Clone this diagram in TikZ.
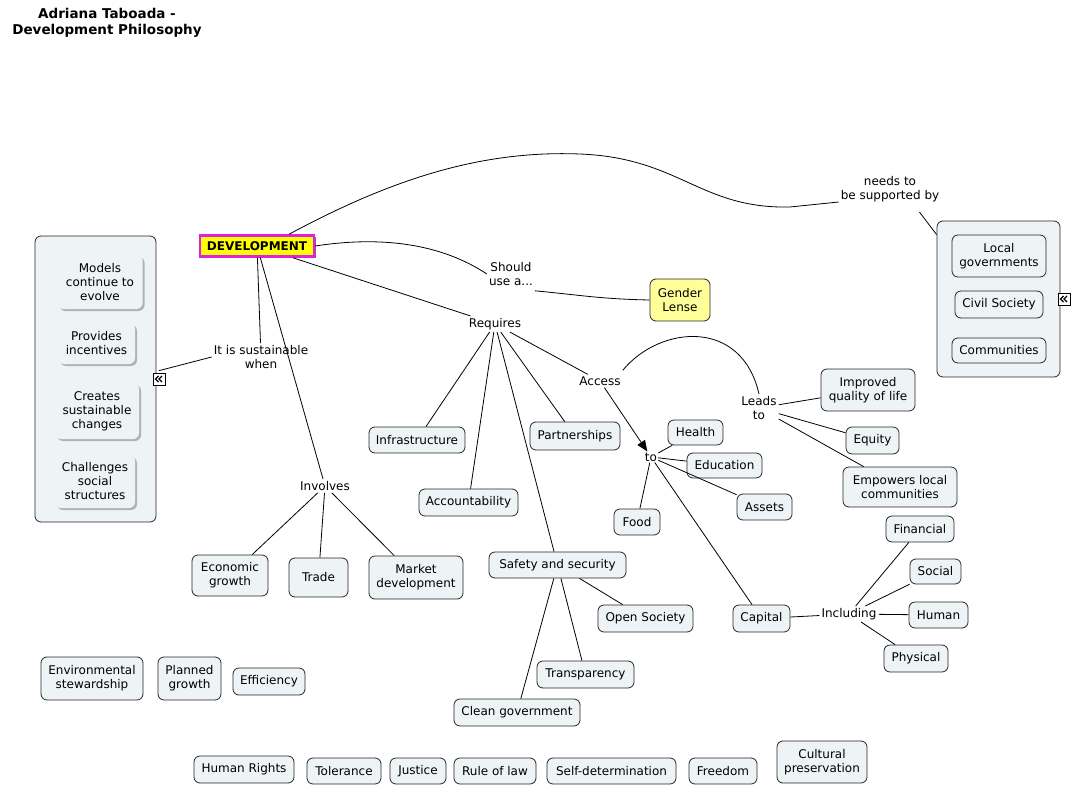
\documentclass[tikz,border=0pt]{standalone}
\usepackage{fontspec}
\setmainfont{DejaVu Sans}
\usetikzlibrary{arrows.meta,shadows}
\definecolor{boxfill}{HTML}{EEF3F6}
\definecolor{gold}{HTML}{FFFF99}
\definecolor{devyellow}{HTML}{FFFF00}
\definecolor{devmag}{HTML}{E020E0}
\definecolor{devshadow}{HTML}{9A4AA8}
\tikzset{
  wh/.style n args={2}{minimum width=#1, minimum height=#2},
  box/.style={draw=black!85, fill=boxfill, rounded corners=6pt, line width=0.8pt, align=center, inner sep=0pt},
  sbox/.style={fill=boxfill, rounded corners=6pt, align=center, inner sep=0pt,
    general shadow={fill=gray!60, shadow xshift=2pt, shadow yshift=-2pt}},
  devbox/.style={draw=devmag, line width=2.5pt, fill=devyellow, inner sep=0pt,
    font=\fontsize{12}{14}\selectfont\bfseries,
    general shadow={fill=devshadow, shadow xshift=1.5pt, shadow yshift=-1.5pt}},
  lbl/.style={align=center, inner sep=2pt},
  icon/.style={draw=black, fill=white, line width=0.7pt, minimum size=12pt, inner sep=0pt,
    path picture={
      \draw[line width=1.1pt] ([xshift=-0.5pt,yshift=-3pt]path picture bounding box.north)
        -- ([xshift=-3.5pt]path picture bounding box.center)
        -- ([xshift=-0.5pt,yshift=3pt]path picture bounding box.south);
      \draw[line width=1.1pt] ([xshift=3pt,yshift=-3pt]path picture bounding box.north)
        -- ([xshift=0pt]path picture bounding box.center)
        -- ([xshift=3pt,yshift=3pt]path picture bounding box.south);
    }},
  link/.style={line width=0.8pt, black}
}
\begin{document}
\begin{tikzpicture}[x=1pt,y=-1pt, font=\fontsize{12}{14}\selectfont]
\useasboundingbox (0,0) rectangle (1073,786);

% title
\node[lbl, font=\fontsize{13.5}{16}\selectfont\bfseries] (title) at (107,23) {Adriana Taboada -\\Development Philosophy};

% central node
\node[devbox, wh={114}{21}] (dev) at (257,246) {DEVELOPMENT};

% left panel
\node[box, wh={121}{286}] (lpanel) at (95.5,379) {};
\node[sbox, wh={85}{54}] (models) at (100,282) {Models\\continue to\\evolve};
\node[sbox, wh={77}{41}] (incent) at (96.5,343.5) {Provides\\incentives};
\node[sbox, wh={84}{56}] (creates) at (97,411) {Creates\\sustainable\\changes};
\node[sbox, wh={80}{53}] (challenges) at (95,481.5) {Challenges\\social\\structures};
\node[icon] (licon) at (159,379) {};

% right panel
\node[box, wh={123}{156}] (rpanel) at (998.5,299) {};
\node[box, wh={94}{42}] (localgov) at (999,256) {Local\\governments};
\node[box, wh={88}{27}] (civil) at (999,304.5) {Civil Society};
\node[box, wh={94}{25}] (comm) at (999,350.5) {Communities};
\node[icon] (ricon) at (1064,299) {};

% labels
\node[lbl] (needs) at (890,189) {needs to\\be supported by};
\node[lbl] (should) at (511,274) {Should\\use a...};
\node[lbl] (requires) at (495,324) {Requires};
\node[lbl] (sust) at (261,357) {It is sustainable\\when};
\node[lbl] (involves) at (325,486) {Involves};
\node[lbl] (access) at (600,381) {Access};
\node[lbl] (leads) at (759,408) {Leads\\to};
\node[lbl, inner sep=1pt] (to) at (651,457) {to};
\node[lbl] (including) at (849,614) {Including};

% gender lense
\node[box, fill=gold, wh={60}{42}] (gender) at (680,300) {Gender\\Lense};

% requires children
\node[box, wh={96}{26}] (infra) at (417,440) {Infrastructure};
\node[box, wh={99}{27}] (account) at (468.5,502.5) {Accountability};
\node[box, wh={90}{28}] (partner) at (575,436) {Partnerships};
\node[box, wh={137}{26}] (safety) at (557.5,565) {Safety and security};
\node[box, wh={95}{27}] (opensoc) at (645.5,618.5) {Open Society};
\node[box, wh={97}{27}] (transp) at (585.5,674.5) {Transparency};
\node[box, wh={126}{27}] (cleangov) at (517,712.5) {Clean government};

% access children
\node[box, wh={55}{25}] (health) at (695.5,432.5) {Health};
\node[box, wh={75}{25}] (educ) at (724.5,465.5) {Education};
\node[box, wh={55}{26}] (assets) at (764.5,507) {Assets};
\node[box, wh={46}{26}] (food) at (637,522) {Food};
\node[box, wh={57}{27}] (capital) at (761.5,618.5) {Capital};

% leads to children
\node[box, wh={94}{42}] (improved) at (868,390) {Improved\\quality of life};
\node[box, wh={53}{27}] (equity) at (872.5,440.5) {Equity};
\node[box, wh={114}{40}] (empowers) at (900,487) {Empowers local\\communities};

% including children
\node[box, wh={68}{26}] (financial) at (920,529) {Financial};
\node[box, wh={51}{25}] (social) at (935.5,571.5) {Social};
\node[box, wh={59}{26}] (human) at (938.5,615) {Human};
\node[box, wh={64}{27}] (physical) at (916,658.5) {Physical};

% involves children
\node[box, wh={76}{41}] (econ) at (230,575.5) {Economic\\growth};
\node[box, wh={59}{39}] (trade) at (318.5,577.5) {Trade};
\node[box, wh={94}{43}] (market) at (416,577.5) {Market\\development};

% isolated
\node[box, wh={102}{43}] (env) at (92,678.5) {Environmental\\stewardship};
\node[box, wh={63}{43}] (planned) at (189.5,678.5) {Planned\\growth};
\node[box, wh={72}{27}] (effic) at (269,681.5) {Efficiency};
\node[box, wh={100}{27}] (hr) at (244,769.5) {Human Rights};
\node[box, wh={74}{26}] (toler) at (344,771) {Tolerance};
\node[box, wh={56}{26}] (justice) at (418,771) {Justice};
\node[box, wh={82}{26}] (rule) at (495,771) {Rule of law};
\node[box, wh={129}{26}] (selfdet) at (611.5,771) {Self-determination};
\node[box, wh={68}{26}] (freedom) at (723,771) {Freedom};
\node[box, wh={90}{42}] (cultural) at (822,762) {Cultural\\preservation};

% connectors
\draw[link] ([xshift=32pt]dev.north) .. controls (390,180) and (480,150) .. (580,154)
  .. controls (680,158) and (700,209) .. (790,207) -- ([yshift=2pt]needs.south west);
\draw[link] ([xshift=-22pt,yshift=-8pt]needs.south east) -- ([yshift=-14pt]rpanel.north west);
\draw[link] (dev.east) .. controls (380,236) and (440,243) .. (should.west);
\draw[link] ([yshift=-3pt]should.south east) .. controls (580,295) and (600,299) .. (gender.west);
\draw[link] (dev) -- (requires);
\draw[link] (dev) -- (sust);
\draw[link] (sust.west) -- ([yshift=2pt]licon.north);
\draw[link] (dev) -- (involves);
\draw[link] (involves) -- (econ);
\draw[link] (involves) -- (trade);
\draw[link] (involves) -- (market);
\draw[link] (requires) -- (infra);
\draw[link] (requires) -- (account);
\draw[link] (requires) -- (safety);
\draw[link] (requires) -- (partner);
\draw[link] (requires) -- (access);
\draw[link, -{Triangle[length=11pt,width=9pt]}] (access) -- (to);
\draw[link] ([yshift=4pt]access.north east) .. controls (660,325) and (742,318) .. (leads.north);
\draw[link] (leads) -- (improved);
\draw[link] (leads) -- (equity);
\draw[link] (leads) -- (empowers);
\draw[link] (to) -- (health);
\draw[link] (to) -- (educ);
\draw[link] (to) -- (assets);
\draw[link] (to) -- (food);
\draw[link] (to) -- (capital);
\draw[link] (capital) -- (including);
\draw[link] (including) -- (financial);
\draw[link] (including) -- (social);
\draw[link] (including) -- (human);
\draw[link] (including) -- (physical);
\draw[link] (safety) -- (opensoc);
\draw[link] (safety) -- (transp);
\draw[link] (safety) -- (cleangov);
\end{tikzpicture}
\end{document}
